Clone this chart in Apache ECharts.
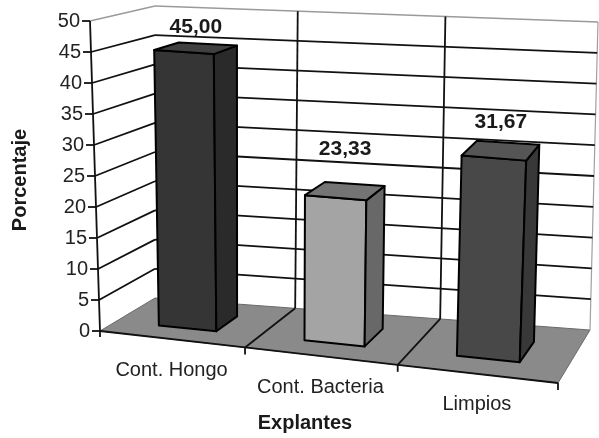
<!DOCTYPE html>
<html>
<head>
<meta charset="utf-8">
<script src="https://cdn.jsdelivr.net/npm/echarts@6/dist/echarts.min.js"></script>
<style>
html, body { margin: 0; padding: 0; background: #fff; }
#main { width: 599px; height: 438px; }
</style>
</head>
<body>
<div id="main"></div>
<script>
var categories = ['Cont. Hongo', 'Cont. Bacteria', 'Limpios'];
var percentages = [45.00, 23.33, 31.67];
var yTicks = [0, 5, 10, 15, 20, 25, 30, 35, 40, 45, 50];

var FONT = 'Liberation Sans, Arial, sans-serif';

// corners of the 3D box: front plane (d = 0) and back wall (d = 1)
var FRONT = { bl: [100, 331], br: [558, 383], tl: [90, 21], tr: [572, 58] };
var BACK = { bl: [155, 298], br: [590, 330], tl: [155, 6], tr: [598, 22] };

// bar colours: front, side, top
var barColors = [
  ['#353535', '#2a2a2a', '#404040'],
  ['#a4a4a4', '#686868', '#747474'],
  ['#484848', '#383838', '#555555']
];
var labelLift = [21, 42, 28];

function lerp(a, b, k) {
  return [a[0] + (b[0] - a[0]) * k, a[1] + (b[1] - a[1]) * k];
}

// s: 0..1 across categories, t: 0..1 along value, d: 0 front .. 1 back
function project(s, t, d) {
  var c = 0.075 * (1 - d) + 0.05 * d;
  var w = s - c * s * (1 - s);
  var bl = lerp(FRONT.bl, BACK.bl, d), br = lerp(FRONT.br, BACK.br, d);
  var tl = lerp(FRONT.tl, BACK.tl, d), tr = lerp(FRONT.tr, BACK.tr, d);
  return lerp(lerp(bl, br, w), lerp(tl, tr, w), t);
}

function toS(params, x) {
  var cs = params.coordSys;
  return (x - cs.x) / cs.width;
}
function toT(params, y) {
  var cs = params.coordSys;
  return (cs.y + cs.height - y) / cs.height;
}

function line(a, b, color, width) {
  return {
    type: 'line',
    shape: { x1: a[0], y1: a[1], x2: b[0], y2: b[1] },
    style: { stroke: color, lineWidth: width }
  };
}
function quad(pts, fill) {
  return {
    type: 'polygon',
    shape: { points: pts },
    style: { fill: fill, stroke: '#000', lineWidth: 2, lineJoin: 'round' }
  };
}

function renderFloor(params, api) {
  var x0 = api.coord([0, 0])[0] - api.size([1, 0])[0] / 2;
  var x1 = api.coord([categories.length - 1, 0])[0] + api.size([1, 0])[0] / 2;
  var s0 = toS(params, x0), s1 = toS(params, x1);
  var t1 = toT(params, api.coord([0, yTicks[yTicks.length - 1]])[1]);
  return {
    type: 'group',
    children: [
      {
        type: 'polygon',
        shape: { points: [project(s0, 0, 0), project(s1, 0, 0), project(s1, 0, 1), project(s0, 0, 1)] },
        style: { fill: '#8a8a8a', stroke: '#6a6a6a', lineWidth: 1 }
      },
      line(project(s1, 0, 1), project(s1, t1, 1), '#a0a0a0', 1.2)
    ]
  };
}

function renderGrid(params, api) {
  var v = api.value(1);
  var t = toT(params, api.coord([0, v])[1]);
  var isTop = v === yTicks[yTicks.length - 1];
  var children = [];
  var a = project(0, t, 0), b = project(0, t, 1), c = project(1, t, 1);
  if (v > 0) {
    var col = isTop ? '#9a9a9a' : '#111';
    var lw = isTop ? 1.3 : 1.8;
    children.push(line(a, b, col, lw));
    children.push(line(b, c, col, lw));
  }
  children.push(line([a[0] - 8, a[1]], a, '#111', 1.8));
  children.push({
    type: 'text',
    x: a[0] - 10,
    y: a[1],
    style: { text: String(v), fill: '#222', font: '20px ' + FONT, align: 'right', verticalAlign: 'middle' }
  });
  return { type: 'group', children: children };
}

function renderCategory(params, api) {
  var i = api.value(0);
  var w = api.size([1, 0])[0];
  var cx = api.coord([i, 0])[0];
  var s0 = toS(params, cx - w / 2), s1 = toS(params, cx + w / 2), sc = toS(params, cx);
  var t1 = toT(params, api.coord([0, yTicks[yTicks.length - 1]])[1]);
  var children = [];
  var e0 = project(s0, 0, 0), e1 = project(s1, 0, 0);
  children.push(line(e0, e1, '#111', 1.8));
  children.push(line(e1, [e1[0], e1[1] + 7], '#111', 1.8));
  if (i === 0) {
    children.push(line(e0, [e0[0], e0[1] + 6], '#111', 1.8));
    children.push(line(project(0, t1, 0), e0, '#111', 1.8));
  }
  if (i < categories.length - 1) {
    children.push(line(e1, project(s1, 0, 1), '#111', 1.8));
    children.push(line(project(s1, 0, 1), project(s1, t1, 1), '#111', 1.8));
  }
  var lp = project(sc, 0, 0);
  children.push({
    type: 'text',
    x: lp[0],
    y: lp[1] + 31,
    style: { text: categories[i], fill: '#222', font: '20px ' + FONT, align: 'center', verticalAlign: 'middle' }
  });
  return { type: 'group', children: children };
}

function renderBar(params, api) {
  var i = api.value(0), v = api.value(1);
  var top = api.coord([i, v]);
  var w = api.size([1, 0])[0];
  var sl = toS(params, top[0] - w * 0.2), sr = toS(params, top[0] + w * 0.2);
  var t = toT(params, top[1]);
  var df = 0.3, db = 0.7;
  var col = barColors[i];
  var front = quad([project(sl, 0, df), project(sr, 0, df), project(sr, t, df), project(sl, t, df)], col[0]);
  var side = quad([project(sr, 0, df), project(sr, 0, db), project(sr, t, db), project(sr, t, df)], col[1]);
  var lid = quad([project(sl, t, df), project(sr, t, df), project(sr, t, db), project(sl, t, db)], col[2]);
  var lp = project((sl + sr) / 2, t, 0.5);
  return {
    type: 'group',
    children: [front, side, lid, {
      type: 'text',
      x: lp[0],
      y: lp[1] - labelLift[i],
      style: {
        text: v.toFixed(2).replace('.', ','),
        fill: '#1a1a1a',
        font: 'bold 21px ' + FONT,
        align: 'center',
        verticalAlign: 'middle'
      }
    }]
  };
}

var chart = echarts.init(document.getElementById('main'), null, { renderer: 'canvas' });
chart.setOption({
  animation: false,
  backgroundColor: '#fff',
  grid: { left: 0, right: 0, top: 0, bottom: 0 },
  xAxis: { type: 'category', data: categories, show: false },
  yAxis: { type: 'value', min: 0, max: 50, interval: 5, show: false },
  graphic: [
    {
      type: 'text',
      x: 20,
      y: 180,
      rotation: Math.PI / 2,
      style: { text: 'Porcentaje', fill: '#1a1a1a', font: 'bold 20px ' + FONT, align: 'center', verticalAlign: 'middle' }
    },
    {
      type: 'text',
      x: 305,
      y: 423,
      style: { text: 'Explantes', fill: '#1a1a1a', font: 'bold 20px ' + FONT, align: 'center', verticalAlign: 'middle' }
    }
  ],
  series: [
    { type: 'custom', z: 1, clip: false, renderItem: renderFloor, data: [[0, 0]] },
    { type: 'custom', z: 2, clip: false, renderItem: renderGrid, data: yTicks.map(function (v) { return [0, v]; }) },
    { type: 'custom', z: 3, clip: false, renderItem: renderCategory, data: categories.map(function (c, i) { return [i, 0]; }) },
    { type: 'custom', z: 5, clip: false, renderItem: renderBar, data: percentages.map(function (v, i) { return [i, v]; }) }
  ]
});
</script>
</body>
</html>
